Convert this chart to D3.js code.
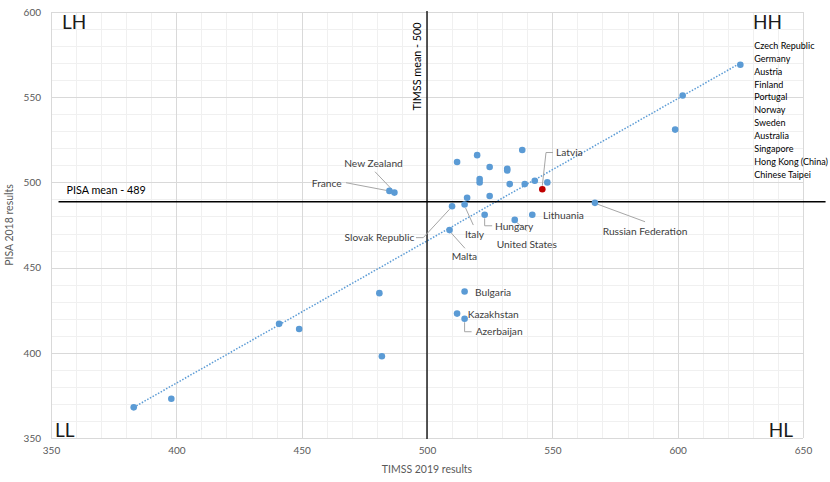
<!DOCTYPE html>
<html><head><meta charset="utf-8">
<script src="https://cdn.jsdelivr.net/npm/d3@7"></script>
<style>
html,body{margin:0;padding:0;background:#fff;}
svg{display:block;font-family:Lato,"Open Sans",sans-serif;}
</style></head>
<body>
<svg id="chart" width="830" height="482"></svg>
<script>
// ---- data ----
const countries = ["Morocco","Saudi Arabia","Chile","Qatar","United Arab Emirates","Georgia","Singapore","Hong Kong (China)","Chinese Taipei","Russian Federation","Netherlands","Poland","Canada","Denmark","Belgium","Finland","Sweden","Germany","Czech Republic","Austria","Norway","Ireland","Latvia","Australia","Portugal","Slovak Republic","Italy","Hungary","United States","Lithuania","Malta","France","New Zealand","Bulgaria","Kazakhstan","Azerbaijan"];
const timss = [383,398,441,449,481,482,625,602,599,567,538,520,512,525,532,532,521,521,533,539,543,548,546,516,525,510,515,523,535,542,509,485,487,515,512,515];
const pisa  = [368,373,417,414,435,398,569,551,531,488,519,516,512,509,508,507,502,500,499,499,501,500,496,491,492,486,487,481,478,481,472,495,494,436,423,420];
const highlighted = ["Latvia"];
const xTicks = [350,400,450,500,550,600,650];
const yTicks = [350,400,450,500,550,600];
const timssMean = 500;
const pisaMean = 489;
const pisaMeanExtent = [353,659];
const trendX = [383,625];
const trendY = [368,570];
const sideList = ["Czech Republic","Germany","Austria","Finland","Portugal","Norway","Sweden","Australia","Singapore","Hong Kong (China)","Chinese Taipei"];

// ---- label placement (pixel offsets from the point) ----
const labelLayout = {
  "Latvia":            {dx:13.7, dy:-36.7, anchor:"start", leader:[[0,-3.5],[3.7,-36.7],[10.7,-36.7]]},
  "Lithuania":         {dx:10.7, dy:0.5, anchor:"start"},
  "Hungary":           {dx:10.3, dy:11.7, anchor:"start", leader:[[0,3.5],[0,11],[7.5,11]]},
  "United States":     {dx:-18, dy:25, anchor:"start", leader:[[2,2.5],[12,11]]},
  "Italy":             {dx:0.4, dy:29.4, anchor:"start", leader:[[1,3.5],[8.7,20.5]]},
  "Malta":             {dx:2.1, dy:26.6, anchor:"start", leader:[[1.8,3],[15.4,18.2]]},
  "Slovak Republic":   {dx:-37.8, dy:31.4, anchor:"end", leader:[[-2.5,3],[-28.8,31.4],[-36.1,31.4]]},
  "France":            {dx:-47.7, dy:-7.6, anchor:"end", leader:[[-3,-0.5],[-43.4,-8.2]]},
  "New Zealand":       {dx:-20.9, dy:-29.3, anchor:"middle", leader:[[-2.7,-3.4],[-19.4,-20.9]]},
  "Russian Federation":{dx:7.8, dy:28.2, anchor:"start", leader:[[3,1.5],[50.1,18.9]]},
  "Bulgaria":          {dx:10.4, dy:1.2, anchor:"start"},
  "Kazakhstan":        {dx:10.6, dy:0.7, anchor:"start"},
  "Azerbaijan":        {dx:11.1, dy:13, anchor:"start", leader:[[0,3.5],[0,13],[7,13]]}
};

const svg = d3.select("#chart");
const x = d3.scaleLinear().domain([350,650]).range([51,803]);
const y = d3.scaleLinear().domain([350,600]).range([438,12]);
const crisp = v => Math.round(v) + 0.5;

// gridlines
const minorX = d3.range(350,651,10), minorY = d3.range(350,601,10);
const grid = svg.append("g");
grid.selectAll(".mx").data(minorX.filter(v=>v%50!==0)).enter().append("line")
  .attr("x1",d=>crisp(x(d))).attr("x2",d=>crisp(x(d))).attr("y1",y(600)).attr("y2",y(350))
  .attr("stroke","#f0f0f0").attr("stroke-width",1);
grid.selectAll(".my").data(minorY.filter(v=>v%50!==0)).enter().append("line")
  .attr("y1",d=>crisp(y(d))).attr("y2",d=>crisp(y(d))).attr("x1",x(350)).attr("x2",x(650))
  .attr("stroke","#f0f0f0").attr("stroke-width",1);
grid.selectAll(".Mx").data(xTicks).enter().append("line")
  .attr("x1",d=>crisp(x(d))).attr("x2",d=>crisp(x(d))).attr("y1",y(600)).attr("y2",y(350))
  .attr("stroke","#d9d9d9").attr("stroke-width",1);
grid.selectAll(".My").data(yTicks).enter().append("line")
  .attr("y1",d=>crisp(y(d))).attr("y2",d=>crisp(y(d))).attr("x1",x(350)).attr("x2",x(650))
  .attr("stroke","#d9d9d9").attr("stroke-width",1);

// axes (labels only)
const xAxis = d3.axisBottom(x).tickValues(xTicks).tickSize(0).tickPadding(9);
const yAxis = d3.axisLeft(y).tickValues(yTicks).tickSize(0).tickPadding(10);
const gx = svg.append("g").attr("transform",`translate(0,${y(350)})`).call(xAxis);
const gy = svg.append("g").attr("transform",`translate(${x(350)},0)`).call(yAxis);
[gx,gy].forEach(g=>{
  g.select(".domain").remove();
  g.selectAll("text").attr("fill","#595959").style("font-size","10px").style("font-family","Lato,'Open Sans',sans-serif");
});

// axis titles
svg.append("text").attr("x",x(500)).attr("y",473).attr("text-anchor","middle")
  .attr("fill","#595959").style("font-size","10.5px").text("TIMSS 2019 results");
svg.append("text").attr("transform",`translate(13,${(y(350)+y(600))/2}) rotate(-90)`)
  .attr("text-anchor","middle").attr("fill","#595959").style("font-size","10.5px").text("PISA 2018 results");

// trendline
svg.append("line").attr("x1",x(trendX[0])).attr("y1",y(trendY[0])).attr("x2",x(trendX[1])).attr("y2",y(trendY[1]))
  .attr("stroke","#5b9bd5").attr("stroke-width",1.5).attr("stroke-dasharray","1.5,1.6");

// mean lines
svg.append("line").attr("x1",x(timssMean)).attr("x2",x(timssMean)).attr("y1",y(600)-1).attr("y2",y(350)+1)
  .attr("stroke","#000").attr("stroke-width",1.3);
svg.append("line").attr("x1",x(pisaMeanExtent[0])).attr("x2",x(pisaMeanExtent[1])).attr("y1",y(pisaMean)+0.6).attr("y2",y(pisaMean)+0.6)
  .attr("stroke","#000").attr("stroke-width",1.3);
svg.append("text").attr("x",66.5).attr("y",y(pisaMean)-11).attr("dy","0.35em")
  .attr("fill","#000").style("font-size","10.8px").text("PISA mean - " + pisaMean);
svg.append("text").attr("transform",`translate(${x(timssMean)-10},66.5) rotate(-90)`).attr("dy","0.35em")
  .attr("text-anchor","middle").attr("fill","#000").style("font-size","10.8px").text("TIMSS mean - " + timssMean);

// quadrant labels
const quad = [["LH",62,29,"start"],["HH",782,29,"end"],["LL",55,437,"start"],["HL",793,437,"end"]];
svg.selectAll(".quad").data(quad).enter().append("text")
  .attr("x",d=>d[1]).attr("y",d=>d[2]).attr("text-anchor",d=>d[3])
  .attr("fill","#1a1a1a").style("font-size","19px").text(d=>d[0]);

// points
const pts = countries.map((c,i)=>({name:c, tx:timss[i], py:pisa[i]}));
const byName = {}; pts.forEach(p=>byName[p.name]=p);

// leader lines
const lg = svg.append("g");
Object.keys(labelLayout).forEach(n=>{
  const L = labelLayout[n], p = byName[n];
  if(!L.leader) return;
  const px = x(p.tx), py = y(p.py);
  lg.append("polyline").attr("points", L.leader.map(o=>[px+o[0],py+o[1]].join(",")).join(" "))
    .attr("fill","none").attr("stroke","#a6a6a6").attr("stroke-width",1);
});

svg.append("g").selectAll("circle").data(pts).enter().append("circle")
  .attr("cx",d=>x(d.tx)).attr("cy",d=>y(d.py)).attr("r",3.3)
  .attr("fill",d=>highlighted.includes(d.name)?"#c00000":"#5b9bd5");

// data labels
const tg = svg.append("g");
Object.keys(labelLayout).forEach(n=>{
  const L = labelLayout[n], p = byName[n];
  tg.append("text").attr("x",x(p.tx)+L.dx).attr("y",y(p.py)+L.dy).attr("dy","0.35em")
    .attr("text-anchor",L.anchor).attr("fill","#404040").style("font-size","10.2px").text(n);
});

// stacked list of labels on the right
svg.append("g").selectAll("text").data(sideList).enter().append("text")
  .attr("x",754.3).attr("y",(d,i)=>45.7+i*12.9).attr("dy","0.35em")
  .attr("fill","#000").style("font-size","9px").text(d=>d);
</script>
</body></html>
